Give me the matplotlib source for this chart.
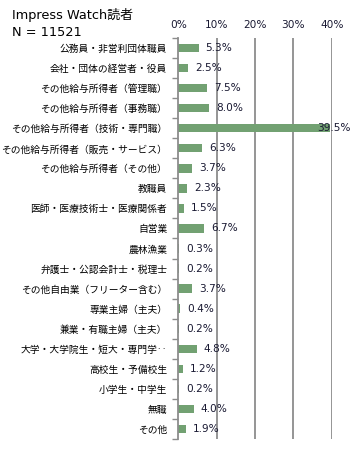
import matplotlib
matplotlib.use("Agg")
import matplotlib.pyplot as plt
import numpy as np

categories = [
    "公務員・非営利団体職員",
    "会社・団体の経営者・役員",
    "その他給与所得者（管理職）",
    "その他給与所得者（事務職）",
    "その他給与所得者（技術・専門職）",
    "その他給与所得者（販売・サービス）",
    "その他給与所得者（その他）",
    "教職員",
    "医師・医療技術士・医療関係者",
    "自営業",
    "農林漁業",
    "弁護士・公認会計士・税理士",
    "その他自由業（フリーター含む）",
    "専業主婦（主夫）",
    "兼業・有職主婦（主夫）",
    "大学・大学院生・短大・専門学‥",
    "高校生・予備校生",
    "小学生・中学生",
    "無職",
    "その他",
]
values = [5.3, 2.5, 7.5, 8.0, 39.5, 6.3, 3.7, 2.3, 1.5, 6.7,
          0.3, 0.2, 3.7, 0.4, 0.2, 4.8, 1.2, 0.2, 4.0, 1.9]
xticks = [0, 10, 20, 30, 40]
xtick_labels = ["0%", "10%", "20%", "30%", "40%"]
title_lines = ["Impress Watch読者", "N = 11521"]

plt.rcParams['font.family'] = ['DejaVu Sans', 'Noto Sans CJK JP']

fig = plt.figure(figsize=(3.6, 4.55), dpi=100)
ax = fig.add_axes([178.3/360, 1-439/455, (331.7-178.3)/360, (439-38)/455])

n = len(categories)
y = np.arange(n)
bar_color = '#72a172'
text_color = '#1a1a33'
grid_color = '#8c8c8c'

ax.barh(y, values, height=0.42, color=bar_color, zorder=2)
ax.set_ylim(n - 0.5, -0.5)
ax.set_xlim(0, 40)

for xv in xticks[1:]:
    ax.axvline(xv, color=grid_color, lw=1.3, zorder=1)

for yi, v in zip(y, values):
    if v > 35:
        ax.annotate(f"{v:.1f}%", (v, yi), xytext=(-9, 0), textcoords='offset points',
                    ha='left', va='center', fontsize=7.6, color=text_color,
                    annotation_clip=False, zorder=3)
    else:
        ax.annotate(f"{v:.1f}%", (v, yi), xytext=(5, 0), textcoords='offset points',
                    ha='left', va='center', fontsize=7.6, color=text_color, zorder=3)

ax.xaxis.tick_top()
ax.set_xticks(xticks)
ax.set_xticklabels(xtick_labels, fontsize=7.6, color=text_color)
ax.tick_params(axis='x', length=0, pad=6)

ax.set_yticks(y)
ax.set_yticklabels(categories, fontsize=7.0, color='black',
                   family=['Noto Sans CJK JP', 'DejaVu Sans'])
ax.set_yticks(np.arange(n + 1) - 0.5, minor=True)
ax.tick_params(axis='y', which='major', length=0, pad=8)
ax.tick_params(axis='y', which='minor', length=4, color=grid_color, width=1)

for s in ['top', 'right', 'bottom']:
    ax.spines[s].set_visible(False)
ax.spines['left'].set_color(grid_color)
ax.spines['left'].set_linewidth(1.3)

fig.text(12/360, 1-15/455, title_lines[0], fontsize=9.3, color='black', va='center', ha='left')
fig.text(12/360, 1-32/455, title_lines[1], fontsize=9.3, color='black', va='center', ha='left')

fig.savefig("out.png", dpi=100)
